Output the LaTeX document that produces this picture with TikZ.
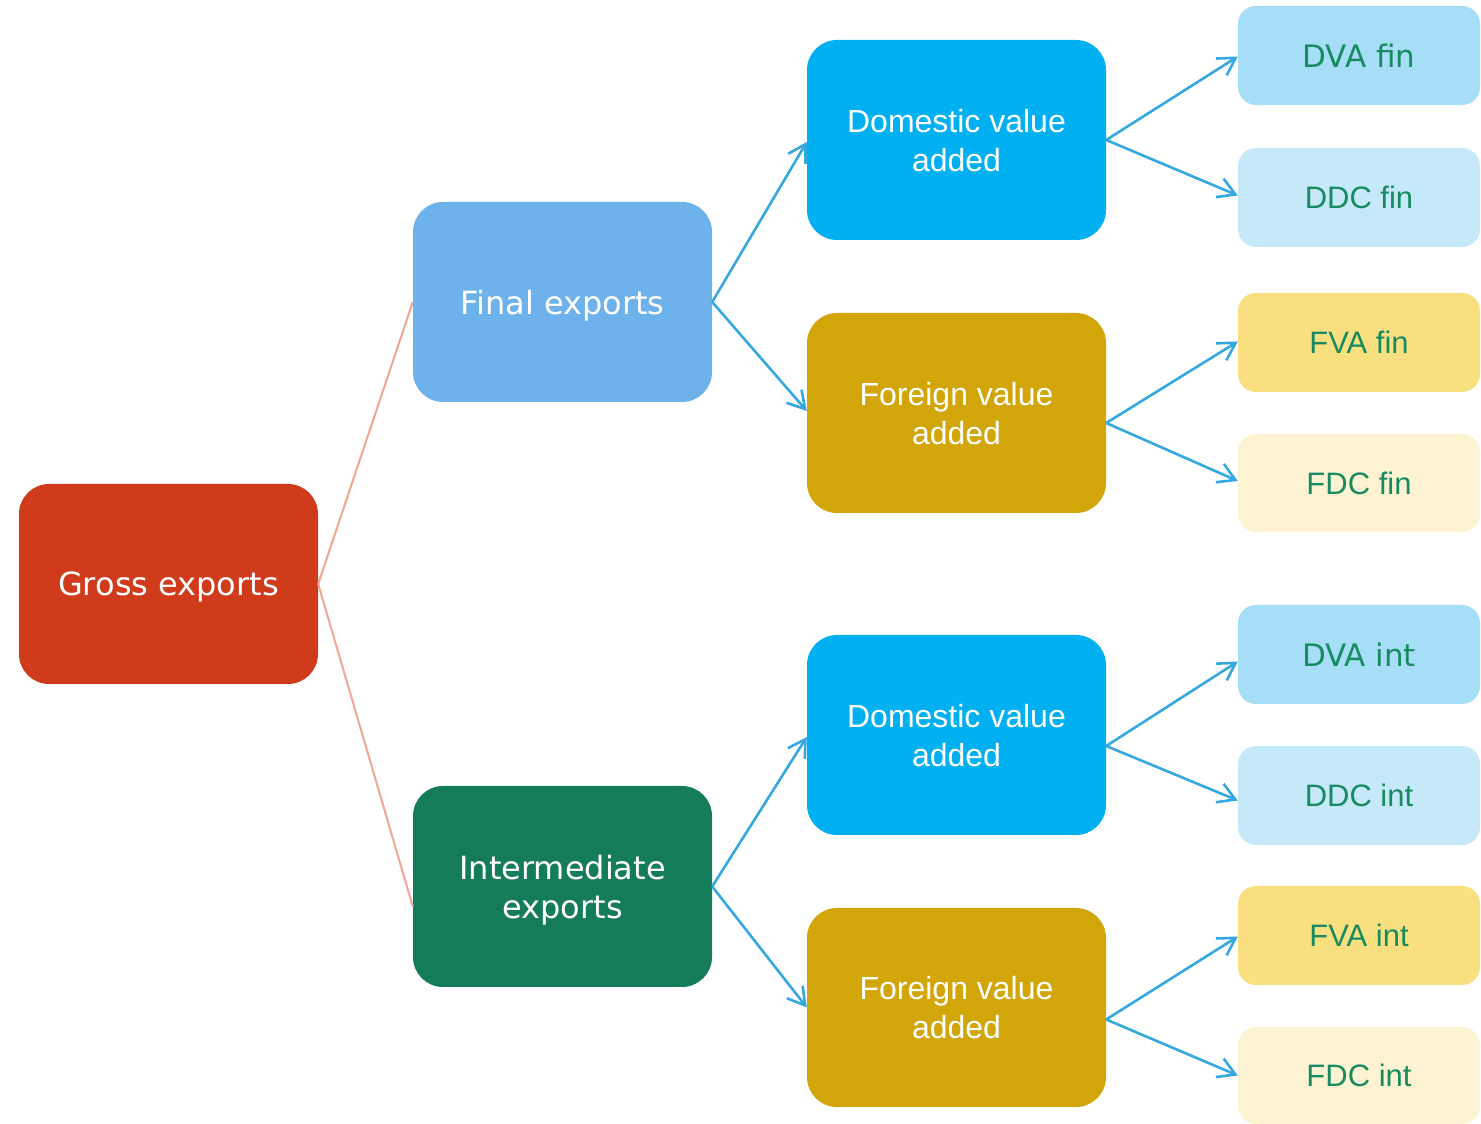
\documentclass[tikz,border=0pt]{standalone}
\usepackage{fontspec}
\setmainfont{Liberation Sans}
\newfontfamily\verd{DejaVu Sans}
\usetikzlibrary{arrows.meta}
\definecolor{grossc}{HTML}{D03B1C}
\definecolor{finalc}{HTML}{6EB2EB}
\definecolor{interc}{HTML}{157C5A}
\definecolor{domc}{HTML}{00B0F0}
\definecolor{forc}{HTML}{D2A608}
\definecolor{dvac}{HTML}{A6DEF7}
\definecolor{ddcc}{HTML}{C5E9F9}
\definecolor{fvac}{HTML}{F8DF80}
\definecolor{fdcc}{HTML}{FDF3D3}
\definecolor{arrc}{HTML}{36A8E0}
\definecolor{salmc}{HTML}{F2A590}
\definecolor{txtg}{HTML}{178B5F}
\tikzset{
  bigbox/.style={rounded corners=30pt, minimum width=299pt, minimum height=200pt, inner sep=0pt, align=center, text depth=0pt, text=white, font=\fontsize{32}{39}\selectfont},
  smallbox/.style={rounded corners=18pt, minimum width=242pt, minimum height=99pt, inner sep=0pt, align=center, text depth=0pt, text=txtg, font=\fontsize{31}{37}\selectfont},
  arr/.style={draw=arrc, line width=2.6pt, -{Straight Barb[length=17pt,width=20pt,line width=2.6pt]}},
  sline/.style={draw=salmc, line width=2pt},
}
\begin{document}
\begin{tikzpicture}[x=1pt,y=1pt]
\useasboundingbox (0,0) rectangle (1481,1124);
\fill[white] (0,0) rectangle (1481,1124);
% main boxes
\node[bigbox, fill=grossc, font=\verd\fontsize{32}{39}\selectfont] (gross) at (168.5,540) {Gross exports};
\node[bigbox, fill=finalc, font=\verd\fontsize{32}{39}\selectfont] (final) at (562.5,822) {Final exports};
\node[bigbox, fill=interc, minimum height=201pt, font=\verd\fontsize{32}{39}\selectfont] (inter) at (562.5,237.5) {Intermediate\\exports};
\node[bigbox, fill=domc] (dom1) at (956.5,984) {Domestic value\\added};
\node[bigbox, fill=forc] (for1) at (956.5,711) {Foreign value\\added};
\node[bigbox, fill=domc] (dom2) at (956.5,389) {Domestic value\\added};
\node[bigbox, fill=forc, minimum height=199pt] (for2) at (956.5,116.5) {Foreign value\\added};
% leaf boxes
\node[smallbox, fill=dvac, font=\verd\fontsize{31}{37}\selectfont] (dvafin) at (1359,1068.5) {DVA fin};
\node[smallbox, fill=ddcc] (ddcfin) at (1359,926.5) {DDC fin};
\node[smallbox, fill=fvac] (fvafin) at (1359,781.5) {FVA fin};
\node[smallbox, fill=fdcc, minimum height=98pt] (fdcfin) at (1359,641) {FDC fin};
\node[smallbox, fill=dvac, font=\verd\fontsize{31}{37}\selectfont] (dvaint) at (1359,469.5) {DVA int};
\node[smallbox, fill=ddcc] (ddcint) at (1359,328.5) {DDC int};
\node[smallbox, fill=fvac] (fvaint) at (1359,188.5) {FVA int};
\node[smallbox, fill=fdcc, minimum height=97pt] (fdcint) at (1359,48.5) {FDC int};
% connectors from gross exports
\draw[sline] (gross.east) -- (final.west);
\draw[sline] (gross.east) -- ([yshift=-20pt]inter.west);
% level 2
\draw[arr] (final.east) -- ([yshift=-2pt]dom1.west);
\draw[arr] (final.east) -- ([yshift=2pt]for1.west);
\draw[arr] (inter.east) -- ([yshift=-2pt]dom2.west);
\draw[arr] (inter.east) -- (for2.west);
% level 3
\draw[arr] (dom1.east) -- ([yshift=-1pt]dvafin.west);
\draw[arr] (dom1.east) -- ([yshift=2pt]ddcfin.west);
\draw[arr] ([yshift=-10pt]for1.east) -- ([yshift=1pt]fvafin.west);
\draw[arr] ([yshift=-10pt]for1.east) -- ([yshift=2pt]fdcfin.west);
\draw[arr] ([yshift=-11pt]dom2.east) -- ([yshift=-7pt]dvaint.west);
\draw[arr] ([yshift=-11pt]dom2.east) -- ([yshift=-5pt]ddcint.west);
\draw[arr] ([yshift=-12pt]for2.east) -- ([yshift=-1pt]fvaint.west);
\draw[arr] ([yshift=-12pt]for2.east) -- (fdcint.west);
\end{tikzpicture}
\end{document}
